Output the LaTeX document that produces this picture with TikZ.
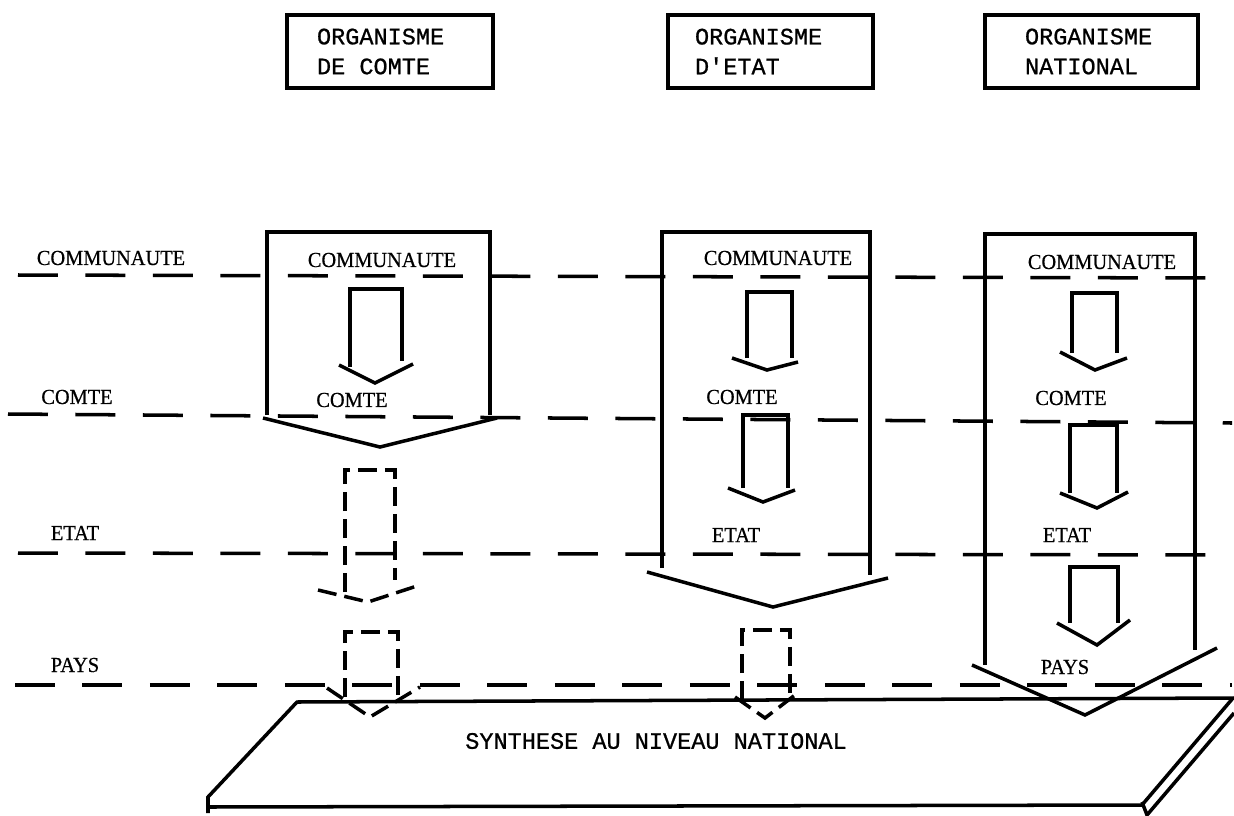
\documentclass[tikz,border=0pt]{standalone}
\usepackage{fontspec}
\newfontfamily\typefam[FakeBold=0.8]{Liberation Mono}
\newfontfamily\levelfam[FakeStretch=0.95, FakeBold=0.5]{Liberation Serif}
\newcommand{\tyfont}{\fontsize{13.4}{17}\selectfont\typefam}
\newcommand{\lvfont}{\fontsize{12.2}{15}\selectfont\levelfam}
\tikzset{
  orgbox/.style={rectangle, draw, line width=1.8pt, minimum height=1.46cm,
                 inner xsep=0pt, align=flush left, font=\tyfont},
  lvl/.style={inner sep=0pt, font=\lvfont},
  levelline/.style={line width=2pt, dash pattern=on 0.8cm off 0.55cm},
  outline/.style={line width=2pt},
  flow/.style={line width=2pt},
  maybeflow/.style={flow, dash pattern=on 0.38cm off 0.16cm},
}

\begin{document}
\begin{tikzpicture}[x=0.02cm, y=-0.02cm]
  \useasboundingbox (0,0) rectangle (1234,815);

  % organismes
  \node[orgbox, minimum width=4.12cm, text width=2.92cm] (orgcomte) at (390,51.5) {ORGANISME\\DE COMTE};
  \node[orgbox, minimum width=4.10cm, text width=3.02cm] (orgetat)  at (770.5,51.5) {ORGANISME\\D'ETAT};
  \node[orgbox, minimum width=4.26cm, text width=2.66cm] (orgnat)   at (1091.5,51.5) {ORGANISME\\NATIONAL};

  % niveaux
  \node[lvl] (lcom)   at (111,258) {COMMUNAUTE};
  \node[lvl] (lcomte) at (77,397)  {COMTE};
  \node[lvl] (letat)  at (75,533)  {ETAT};
  \node[lvl] (lpays)  at (75,665)  {PAYS};
  \foreach \xa/\ya/\xb/\yb in {18/275/1215/278, 8/414/1232/423, 18/553/1232/555, 15/685/1232/685}
    \draw[levelline] (\xa,\ya) -- (\xb,\yb);

  % colonne comte
  \draw[outline] (267,415) -- (267,232) -- (490,232) -- (490,415);
  \draw[outline] (263,418) -- (380,447) -- (497,418);
  \node[lvl] (acom)   at (382,260) {COMMUNAUTE};
  \node[lvl] (acomte) at (352,400) {COMTE};
  \draw[flow] (350,367) -- (350,289) -- (402,289) -- (402,361);
  \draw[flow] (339,365) -- (375,383) -- (413,364);
  \draw[maybeflow] (345,592) -- (345,470) -- (395,470) -- (395,580);
  \draw[maybeflow] (318,590) -- (368,602) -- (420,585);
  \draw[maybeflow] (345,697) -- (345,632) -- (398,632) -- (398,697);
  \draw[maybeflow] (327,688) -- (370,717) -- (420,687);

  % colonne etat
  \draw[outline] (662,568) -- (662,232) -- (870,232) -- (870,575);
  \draw[outline] (647,572) -- (773,607) -- (888,578);
  \node[lvl] (bcom)   at (778,258) {COMMUNAUTE};
  \node[lvl] (bcomte) at (742,397) {COMTE};
  \node[lvl] (betat)  at (736,535) {ETAT};
  \draw[flow] (747,358) -- (747,292) -- (792,292) -- (792,358);
  \draw[flow] (732,358) -- (767,370) -- (798,362);
  \draw[flow] (743,488) -- (743,415) -- (788,415) -- (788,488);
  \draw[flow] (728,488) -- (763,502) -- (795,490);
  \draw[maybeflow] (742,700) -- (742,630) -- (790,630) -- (790,700);
  \draw[maybeflow] (735,697) -- (765,718) -- (795,695);

  % colonne nationale
  \draw[outline] (985,665) -- (985,234) -- (1195,234) -- (1195,650);
  \draw[outline] (972,665) -- (1085,715) -- (1217,648);
  \node[lvl] (ccom)   at (1102,262) {COMMUNAUTE};
  \node[lvl] (ccomte) at (1071,398) {COMTE};
  \node[lvl] (cetat)  at (1067,535) {ETAT};
  \node[lvl] (cpays)  at (1065,667) {PAYS};
  \draw[flow] (1072,353) -- (1072,293) -- (1117,293) -- (1117,353);
  \draw[flow] (1060,352) -- (1095,370) -- (1127,358);
  \draw[flow] (1070,493) -- (1070,425) -- (1117,425) -- (1117,493);
  \draw[flow] (1060,493) -- (1097,508) -- (1128,492);
  \draw[flow] (1070,623) -- (1070,567) -- (1118,567) -- (1118,623);
  \draw[flow] (1057,623) -- (1097,645) -- (1130,620);

  % synthese
  \draw[outline] (208,813) -- (208,797) -- (297,702) -- (1233,698) -- (1142,805) -- (208,807);
  \draw[outline] (1142,802) -- (1147,815) -- (1234,713);
  \node[font=\tyfont, inner sep=0pt] (synth) at (656,741) {SYNTHESE AU NIVEAU NATIONAL};
\end{tikzpicture}
\end{document}
